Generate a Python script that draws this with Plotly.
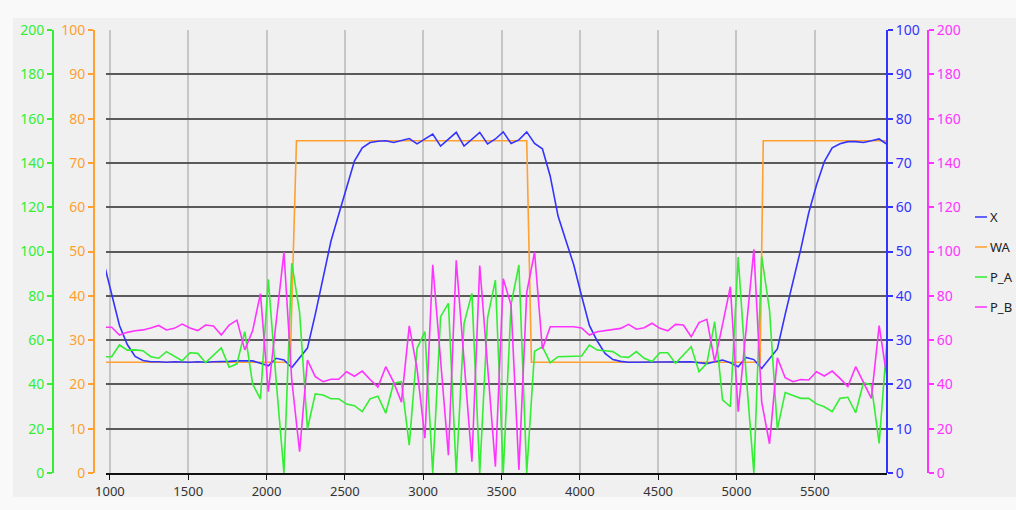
import numpy as np
import plotly.graph_objects as go

# Sample times (50 ms steps) shared by the measured signals
t = np.arange(961, 5962, 50)

# X: position (right blue axis, 0-100)
x_pos = [47.5, 40.5, 33.3, 29.0, 26.3, 25.4, 25.1, 25.1, 25.0, 25.1,
         25.0, 25.0, 25.1, 25.0, 25.1, 25.1, 25.2, 25.3, 25.3, 25.3,
         24.8, 24.2, 25.9, 25.5, 23.8, 25.9, 28.2, 35.8, 43.8, 52.3,
         58.4, 64.6, 70.4, 73.4, 74.6, 74.9, 75.0, 74.6, 75.1, 75.5,
         74.3, 75.4, 76.5, 73.8, 75.3, 76.9, 73.8, 75.4, 76.9, 74.3,
         75.4, 77.0, 74.4, 75.2, 77.0, 74.4, 73.2, 67.0, 58.0, 52.5,
         47.0, 40.0, 33.3, 29.8, 27.0, 25.6, 25.2, 25.0, 25.0, 25.1,
         25.0, 25.0, 25.1, 25.0, 25.0, 25.1, 24.9, 24.7, 25.1, 25.5,
         24.9, 24.0, 26.1, 25.6, 23.6, 25.9, 28.0, 35.8, 43.1, 50.6,
         58.7, 65.0, 70.3, 73.4, 74.3, 74.8, 74.8, 74.6, 75.0, 75.4,
         74.2]

# P_A: pressure A (green axis, 0-200)
p_a = [52.5, 52.5, 57.8, 55.5, 55.6, 55.2, 52.5, 51.8, 54.8, 52.6,
       50.7, 54.3, 54.0, 49.8, 53.0, 56.5, 47.8, 49.3, 63.8, 40.2,
       33.3, 87.5, 42.0, 0.0, 94.7, 72.5, 20.0, 35.7, 35.2, 33.5,
       33.5, 31.1, 30.4, 27.7, 33.5, 34.7, 27.0, 40.5, 41.2, 12.6,
       56.3, 63.8, 0.0, 70.6, 76.6, 0.0, 67.6, 81.1, 0.0, 70.0,
       87.1, 0.0, 76.0, 93.9, 0.0, 55.0, 57.0, 49.8, 52.5, 52.6,
       52.7, 52.8, 57.8, 55.5, 55.2, 54.8, 52.5, 52.2, 54.8, 51.8,
       50.3, 54.3, 54.3, 49.5, 53.3, 57.0, 45.7, 49.5, 68.3, 33.0,
       29.9, 97.5, 45.0, 0.0, 97.7, 73.5, 19.8, 36.3, 35.0, 33.7,
       33.7, 31.2, 29.9, 27.7, 33.7, 34.2, 27.2, 40.8, 39.7, 13.4,
       60.0]

# P_B: pressure B (magenta axis, 0-200)
p_b = [65.8, 65.8, 62.3, 63.5, 64.2, 64.6, 65.5, 66.6, 64.6, 65.3,
       67.2, 65.5, 64.3, 66.8, 66.4, 62.3, 66.8, 69.0, 55.6, 64.2,
       81.0, 36.7, 68.0, 99.7, 42.0, 9.6, 51.0, 43.5, 41.2, 42.3,
       42.3, 45.7, 43.7, 46.0, 42.2, 38.8, 48.0, 41.0, 32.0, 66.4,
       47.0, 15.7, 94.0, 51.0, 8.0, 96.0, 50.0, 5.1, 93.7, 48.0,
       2.9, 87.7, 75.8, 1.4, 81.5, 99.7, 56.0, 66.0, 66.0, 66.0,
       66.0, 65.5, 62.3, 63.8, 64.3, 64.6, 65.3, 67.1, 64.9, 65.6,
       67.6, 65.3, 64.2, 67.1, 66.8, 61.5, 67.9, 69.4, 50.3, 67.0,
       84.1, 27.7, 64.0, 101.0, 32.0, 13.2, 52.0, 43.0, 41.2, 42.2,
       42.0, 45.7, 43.8, 46.0, 42.7, 39.0, 48.0, 40.8, 33.7, 66.5,
       43.0]

# WA: setpoint steps (left orange axis, 0-100)
wa_t = [961, 2151, 2191, 3661, 3691, 5151, 5171, 5961]
wa_v = [25, 25, 75, 75, 25, 25, 75, 75]

series_names = ["X", "WA", "P_A", "P_B"]
C_X = "#3333ff"
C_WA = "#ffa030"
C_PA = "#33ee33"
C_PB = "#ff33ff"
colors = [C_X, C_WA, C_PA, C_PB]

W, H = 1016, 510
FONT = "Noto Sans"

# plot box in pixels
L, R, T, B = 106, 887, 30, 473
xdom = [L / W, R / W]
ydom = [1 - B / H, 1 - T / H]

fig = go.Figure()
fig.add_trace(go.Scatter(x=wa_t, y=wa_v, name="WA", mode="lines",
                         line=dict(color=C_WA, width=1.6), yaxis="y"))
fig.add_trace(go.Scatter(x=t, y=x_pos, name="X", mode="lines",
                         line=dict(color=C_X, width=1.6), yaxis="y2"))
fig.add_trace(go.Scatter(x=t, y=p_a, name="P_A", mode="lines",
                         line=dict(color=C_PA, width=1.6), yaxis="y3"))
fig.add_trace(go.Scatter(x=t, y=p_b, name="P_B", mode="lines",
                         line=dict(color=C_PB, width=1.6), yaxis="y4"))


def side_axis(color, rng, dtick, side, pos, **kw):
    d = dict(range=rng, dtick=dtick, tick0=0, side=side, anchor="free",
             position=pos, showline=True, linecolor=color, linewidth=2,
             ticks="outside", ticklen=5, tickwidth=1.5, tickcolor=color,
             tickfont=dict(family=FONT, size=14, color=color),
             zeroline=False, showgrid=False, domain=ydom, fixedrange=True,
             automargin=False)
    d.update(kw)
    return d


fig.update_layout(
    width=W, height=H,
    margin=dict(l=0, r=0, t=0, b=0, pad=0, autoexpand=False),
    paper_bgcolor="#f9f9f9",
    plot_bgcolor="#f0f0f0",
    showlegend=False,
    xaxis=dict(domain=xdom, range=[975, 5961], tickvals=list(range(1000, 6000, 500)),
               showgrid=True, gridcolor="#c6c6c6", gridwidth=1.5,
               showline=True, linecolor="#111111", linewidth=2,
               ticks="outside", ticklen=5, tickcolor="#111111",
               tickfont=dict(family=FONT, size=13, color="#333333"),
               zeroline=False, anchor="y", automargin=False),
    yaxis=side_axis(C_WA, [0, 100], 10, "left", 94 / W,
                    showgrid=True, gridcolor="#5a5a5a", gridwidth=1.5),
    yaxis2=side_axis(C_X, [0, 100], 10, "right", R / W, overlaying="y"),
    yaxis3=side_axis(C_PA, [0, 200], 20, "left", 53 / W, overlaying="y"),
    yaxis4=side_axis(C_PB, [0, 200], 20, "right", 928 / W, overlaying="y"),
)

# light grey chart panel behind the plot
fig.add_shape(type="rect", xref="paper", yref="paper",
              x0=13 / W, x1=1, y0=1 - 497 / H, y1=1 - 18 / H,
              fillcolor="#f0f0f0", line=dict(width=0), layer="below")

# legend: short colour stroke followed by the series name
legend_rows = [217, 247, 277, 307]
for name, col, ypx in zip(series_names, colors, legend_rows):
    yp = 1 - ypx / H
    fig.add_shape(type="line", xref="paper", yref="paper",
                  x0=975 / W, x1=987 / W, y0=yp, y1=yp,
                  line=dict(color=col, width=1.5))
    fig.add_annotation(xref="paper", yref="paper", x=989 / W, y=yp,
                       text=name, showarrow=False, xanchor="left",
                       yanchor="middle", borderpad=0,
                       font=dict(family=FONT, size=13, color="#222222"))

fig.write_html("out.html")
